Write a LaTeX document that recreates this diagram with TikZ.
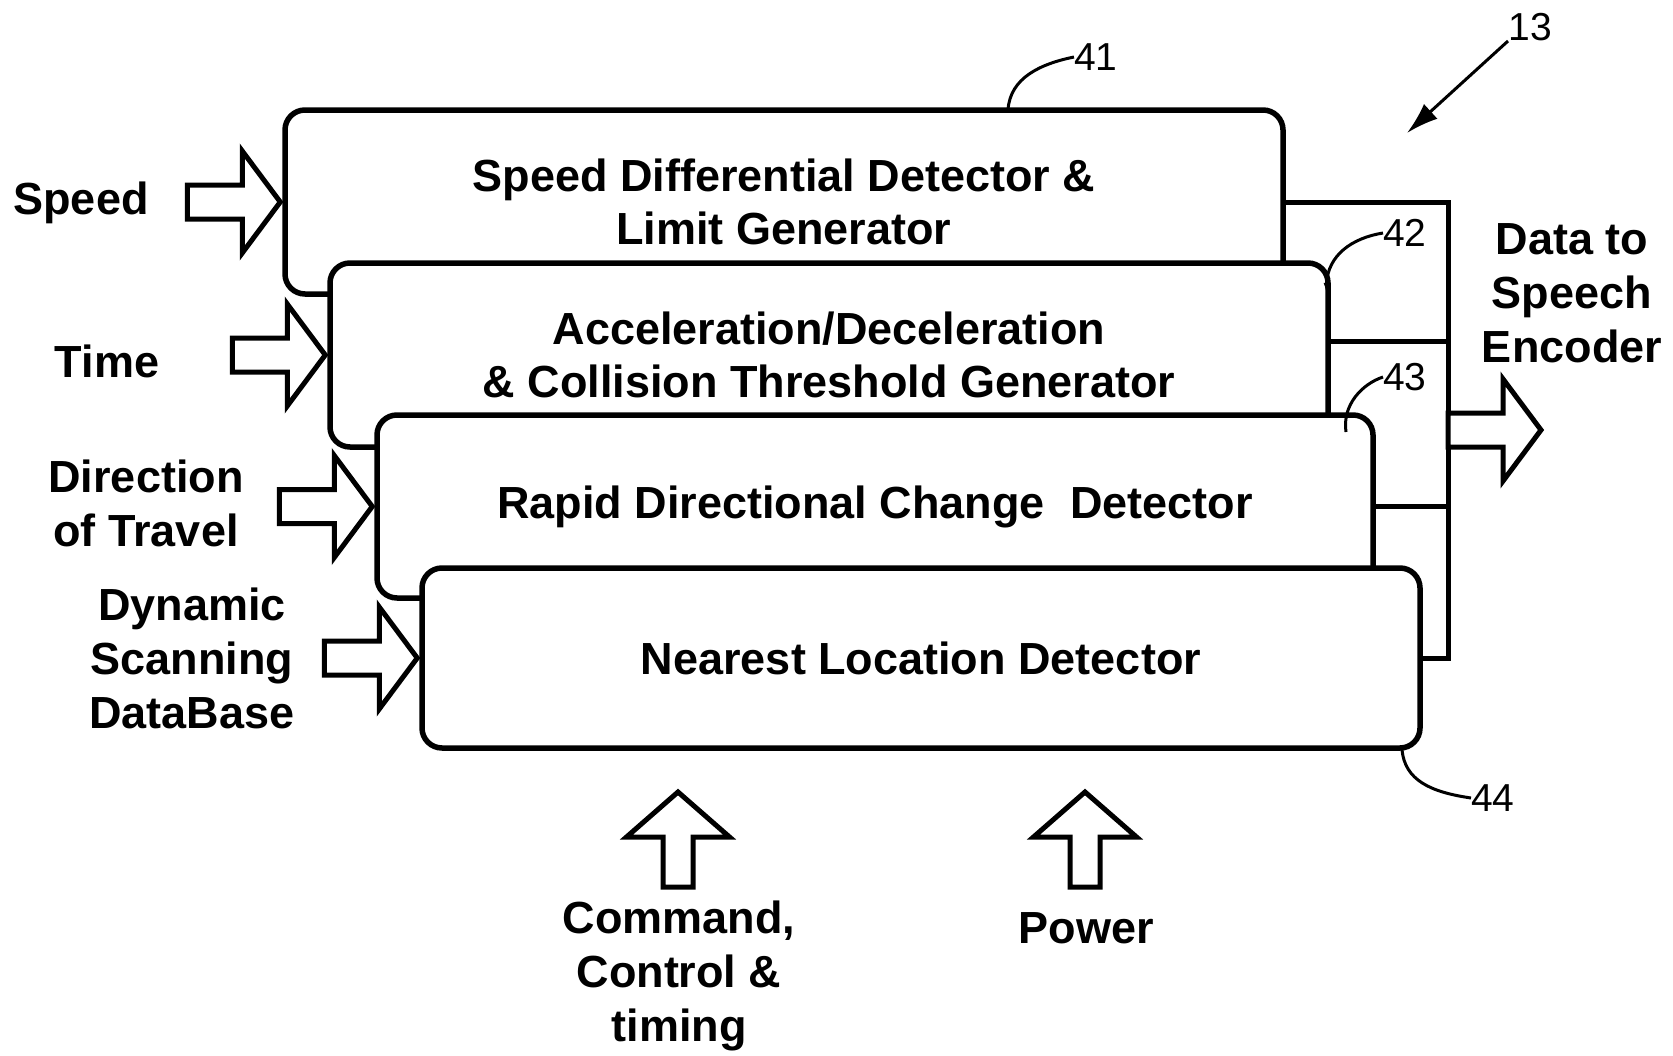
\documentclass[tikz,border=0pt]{standalone}
\usepackage{fontspec}
\setmainfont{Liberation Sans}
\usetikzlibrary{arrows.meta}
\begin{document}
\begin{tikzpicture}[x=1pt,y=-1pt,
  blk/.style={draw, line width=5.5pt, fill=white, rounded corners=20pt,
    minimum width=998pt, minimum height=183pt, inner sep=0pt, align=center,
    font=\fontsize{45}{53}\selectfont\bfseries},
  lbl/.style={align=center, inner sep=0pt, font=\fontsize{45}{54}\selectfont\bfseries},
  num/.style={inner sep=0pt, font=\fontsize{39}{44}\selectfont},
  wire/.style={line width=5pt},
  lead/.style={line width=3pt},
  barrow/.style={draw, line width=5pt, fill=white, line join=miter},
  harrow/.pic={\path[barrow] (0,-17) -- (55,-17) -- (55,-51) -- (93,0) -- (55,51) -- (55,17) -- (0,17) -- cycle;},
  varrow/.pic={\path[barrow] (0,-15) -- (50,-15) -- (50,-51.5) -- (95,0) -- (50,51.5) -- (50,15) -- (0,15) -- cycle;}
]
\useasboundingbox (0,0) rectangle (1673,1055);

% stacked blocks
\node[blk, minimum height=184pt] (b41) at (784,202) {Speed Differential Detector \&\\Limit Generator};
\node[blk, minimum height=184pt] (b42) at (829,355) {Acceleration/Deceleration\\\& Collision Threshold Generator};
\node[blk, minimum width=996pt] (b43) at (875,506.5) {Rapid Directional Change~~Detector};
\node[blk, minimum height=180pt] (b44) at (921,658) {Nearest Location Detector};

% output bus
\coordinate (bt) at (1448,202);
\coordinate (bb) at (1448,658);
\coordinate (bo) at (1448,430);
\draw[wire, line join=miter] (b41.east) -- (bt) -- (bb) -- (b44.east);
\draw[wire] ([yshift=14pt]b42.east) -- ([yshift=14pt]b42.east -| bt);
\draw[wire] (b43.east) -- (b43.east -| bt);
\pic at (bo) {harrow};

% input arrows
\pic at ([xshift=-95pt]b41.west) {harrow};
\pic at ([xshift=-95pt]b42.west) {harrow};
\pic at ([xshift=-95pt]b43.west) {harrow};
\pic at ([xshift=-95pt]b44.west) {harrow};
\pic[rotate=90] at (678,887) {varrow};
\pic[rotate=90] at (1085,887) {varrow};

% labels
\node[lbl] (speed) at (81,203) {Speed};
\node[lbl] (time) at (107,361) {Time};
\node[lbl] (dir) at (146,503) {Direction\\of Travel};
\node[lbl] (dyn) at (192,658) {Dynamic\\Scanning\\DataBase};
\node[lbl] (out) at (1572,293) {Data to\\Speech\\Encoder};
\node[lbl] (cmd) at (679,976) {Command,\\Control \&\\timing};
\node[lbl] (pow) at (1086,928) {Power};

% reference numerals
\node[num, anchor=west] (l41) at (1074,57) {41};
\node[num, anchor=west] (l42) at (1383,233) {42};
\node[num, anchor=west] (l43) at (1383,377) {43};
\node[num, anchor=west] (l44) at (1471,798) {44};
\node[num] (l13) at (1530,27) {13};
\coordinate (t13) at (1407,133);

\draw[lead] (1008,110) .. controls (1010,78) and (1040,64) .. (l41.west);
\draw[lead, -{Latex[length=9pt,width=6pt]}] (l42.west) .. controls (1352,238) and (1328,255) .. (1326,292);
\draw[lead] (l43.west) .. controls (1362,384) and (1342,405) .. (1346,432);
\draw[lead] (1402,750) .. controls (1405,780) and (1430,792) .. (l44.west);
\draw[lead, -{Latex[length=32pt,width=20pt]}] ([xshift=-22pt,yshift=-14pt]l13.center) -- (t13);
\end{tikzpicture}
\end{document}
